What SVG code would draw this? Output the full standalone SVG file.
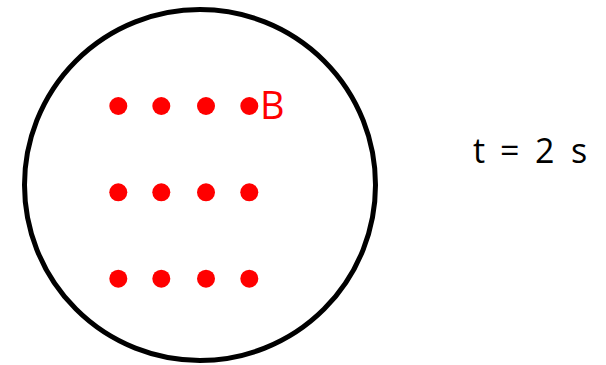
<svg xmlns="http://www.w3.org/2000/svg" width="606" height="365" viewBox="0 0 606 365">
<style>
.dot{fill:#ff0000}
.lbl{font-family:"Open Sans","Liberation Sans",sans-serif}
</style>
<rect width="606" height="365" fill="#ffffff"/>
<g id="disk">
<circle cx="200" cy="185" r="175.5" fill="none" stroke="#000" stroke-width="5"/>
</g>
<g id="dots">
<circle class="dot" cx="118.3" cy="106" r="9"/>
<circle class="dot" cx="161.3" cy="106" r="9"/>
<circle class="dot" cx="206" cy="106" r="9"/>
<circle class="dot" cx="249.3" cy="106" r="9"/>
<circle class="dot" cx="118.3" cy="192.3" r="9"/>
<circle class="dot" cx="161.3" cy="192.3" r="9"/>
<circle class="dot" cx="206" cy="192.3" r="9"/>
<circle class="dot" cx="249.3" cy="192.3" r="9"/>
<circle class="dot" cx="118.3" cy="278.7" r="9"/>
<circle class="dot" cx="161.3" cy="278.7" r="9"/>
<circle class="dot" cx="206" cy="278.7" r="9"/>
<circle class="dot" cx="249.3" cy="278.7" r="9"/>
</g>
<g id="labelB">
<text class="lbl" x="260" y="119" font-size="38" fill="#ff0000">B</text>
</g>
<g id="time">
<text class="lbl" y="162.5" font-size="34" fill="#000"><tspan x="473">t</tspan><tspan x="500">=</tspan><tspan x="535">2</tspan><tspan x="571">s</tspan></text>
</g>
</svg>
